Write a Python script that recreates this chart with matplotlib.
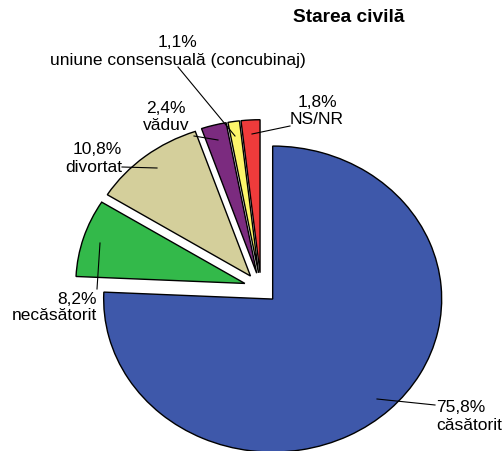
import matplotlib
matplotlib.use('Agg')
import matplotlib.pyplot as plt

plt.rcParams['font.family'] = ['Liberation Sans', 'DejaVu Sans']

categories = ['căsătorit', 'necăsătorit', 'divortat', 'văduv',
              'uniune consensuală (concubinaj)', 'NS/NR']
values = [75.8, 8.2, 10.8, 2.4, 1.1, 1.8]
pct_labels = ['75,8%', '8,2%', '10,8%', '2,4%', '1,1%', '1,8%']
colors = ['#3E58AA', '#33B94A', '#D4CF9B', '#7B2B7F', '#FDF56A', '#EF3B3B']

W, H = 504, 452
CX, CY, RX, RY = 261, 289, 169, 153   # pie centre and radii in pixels


def P(px, py):
    # pixel position -> data position
    return (px - CX) / RX, (CY - py) / RY


fig = plt.figure(figsize=(W / 100, H / 100), dpi=100)
ax = fig.add_axes([0, 0, 1, 1])
ax.pie(values, colors=colors, startangle=90, counterclock=False,
       explode=[0.1] * len(values),
       wedgeprops=dict(edgecolor='black', linewidth=1))
ax.set_aspect('auto')
x0, y0 = P(0, H)
x1, y1 = P(W, 0)
ax.set_xlim(x0, x1)
ax.set_ylim(y0, y1)
ax.axis('off')

fs = 12.5
# label text: (line1 pos, line2 pos, alignment)
lab = [
    ((436, 408), (436, 425), 'left'),
    ((97, 299), (97, 316), 'right'),
    ((122, 149), (122, 167), 'right'),
    ((166, 108), (166, 125), 'center'),
    ((178, 42), (178, 60), 'center'),
    ((317, 102), (317, 119), 'center'),
]
for i, (p1, p2, ha) in enumerate(lab):
    ax.text(*P(*p1), pct_labels[i], ha=ha, va='center', fontsize=fs)
    ax.text(*P(*p2), categories[i], ha=ha, va='center', fontsize=fs)

# leader lines
leaders = [
    ((435, 406), (377, 400)),
    ((97, 290), (100, 244)),
    ((122, 168), (157, 169)),
    ((194, 137), (218, 141)),
    ((178, 68), (235, 137)),
    ((290, 127), (252, 135)),
]
for a, b in leaders:
    xa, ya = P(*a)
    xb, yb = P(*b)
    ax.plot([xa, xb], [ya, yb], color='black', lw=0.8)

ax.text(*P(349, 17), 'Starea civilă', ha='center', va='center',
        fontsize=13.8, fontweight='bold')

fig.savefig('out.png', dpi=100)
